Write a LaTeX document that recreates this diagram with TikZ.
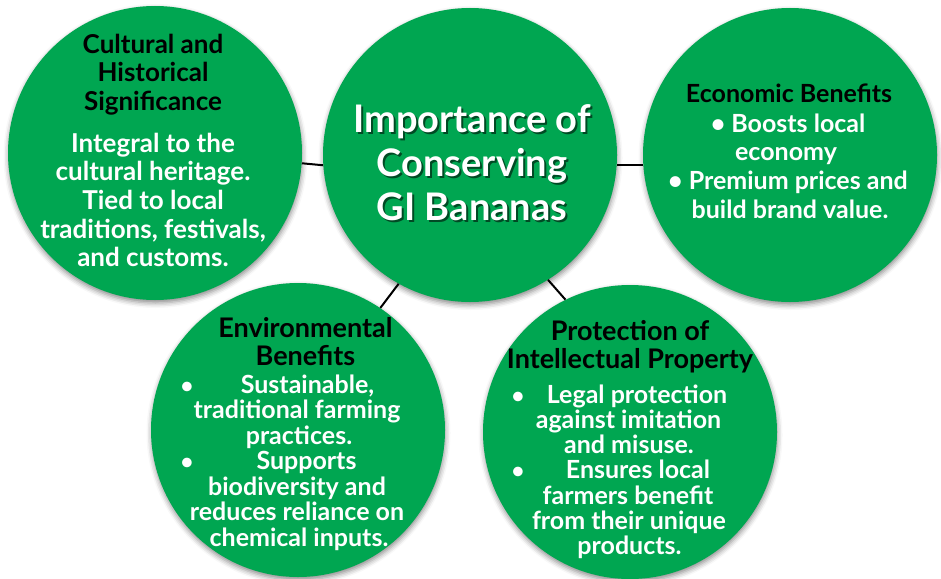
\documentclass[tikz,border=0pt]{standalone}
\usepackage{fontspec}
\setmainfont{Lato}
\usetikzlibrary{shadows.blur}

\definecolor{gigreen}{RGB}{0,166,81}

\tikzset{
  bubble/.style={circle, fill=gigreen, minimum size=294pt, inner sep=0pt,
    blur shadow={shadow xshift=0.5pt, shadow yshift=-3pt,
                 shadow blur radius=5pt, shadow opacity=45}},
  link/.style={draw=black, line width=2pt},
  headline/.style={anchor=base, inner sep=0pt, text=black,
    font=\bfseries\fontsize{#1}{#1}\selectfont},
  bodyline/.style={anchor=base, inner sep=0pt, text=white,
    font=\bfseries\fontsize{#1}{#1}\selectfont},
  titleline/.style={anchor=base, inner sep=0pt, text=white,
    font=\bfseries\fontsize{38}{38}\selectfont},
  titleshade/.style={anchor=base, inner sep=0pt, text=black, opacity=0.55,
    font=\bfseries\fontsize{38}{38}\selectfont},
  dot/.style={anchor=base, inner sep=0pt, text=white,
    font=\bfseries\fontsize{#1}{#1}\selectfont},
}

\begin{document}
\begin{tikzpicture}[x=1pt, y=-1pt]
  \useasboundingbox (0,0) rectangle (941,578);

  % the five circles
  \node[bubble] (cult) at (155,153) {};
  \node[bubble] (core) at (470,155) {};
  \node[bubble] (econ) at (790,155) {};
  \node[bubble] (envi) at (298,430) {};
  \node[bubble] (prot) at (630,432) {};

  % short connectors between the circles
  \draw[link] (cult.-4.6) -- (core.184.5);
  \draw[link] (core.-4.3) -- (econ.184.3);
  \draw[link] (core.241.7) -- (envi.56.3);
  \draw[link] (core.-58.8) -- (prot.116.7);

  % central title with a soft drop shadow
  \foreach \txt [count=\i] in {{Importance of},{Conserving},{GI Bananas}} {
    \node[titleshade] (titlesh\i) at (474, {132+44*(\i-1)+2}) {\txt};
    \node[titleline]  (title\i)   at (472, {132+44*(\i-1)}) {\txt};
  }

  % cultural and historical significance
  \foreach \txt [count=\i] in {{Cultural and},{Historical},{Significance}}
    \node[headline=26] (culth\i) at (153, {53+28.5*(\i-1)}) {\txt};
  \foreach \txt [count=\i] in {{Integral to the},{cultural heritage.},{Tied to local},
                               {traditions, festivals,},{and customs.}}
    \node[bodyline=26] (cultb\i) at (153, {152+28.7*(\i-1)}) {\txt};

  % economic benefits
  \node[headline=25] (econh) at (789,102) {Economic Benefits};
  \foreach \txt/\cx [count=\i] in {{\textbullet\ Boosts local}/788,{economy}/786,
                                   {\textbullet\ Premium prices and}/788,
                                   {build brand value.}/790}
    \node[bodyline=25] (econb\i) at (\cx, {132+28.7*(\i-1)}) {\txt};

  % environmental benefits
  \foreach \txt [count=\i] in {{Environmental},{Benefits}}
    \node[headline=27] (envih\i) at (305.5, {337+28*(\i-1)}) {\txt};
  \foreach \txt/\cx [count=\i] in {{Sustainable,}/307.5,{traditional farming}/297,
                                   {practices.}/299,{Supports}/306.5,
                                   {biodiversity and}/297,{reduces reliance on}/297,
                                   {chemical inputs.}/299}
    \node[bodyline=25] (envib\i) at (\cx, {393+25.5*(\i-1)}) {\txt};
  \node[dot=22] (envid1) at (187,393) {\textbullet};
  \node[dot=22] (envid2) at (187,469.5) {\textbullet};

  % protection of intellectual property
  \foreach \txt [count=\i] in {{Protection of},{Intellectual Property}}
    \node[headline=27] (proth\i) at (630, {340+28*(\i-1)}) {\txt};
  \foreach \txt/\cx [count=\i] in {{Legal protection}/637,{against imitation}/628.5,
                                   {and misuse.}/629,{Ensures local}/638,
                                   {farmers benefit}/628,{from their unique}/629,
                                   {products.}/629.5}
    \node[bodyline=25] (protb\i) at (\cx, {403+25.3*(\i-1)}) {\txt};
  \node[dot=22] (protd1) at (518,403) {\textbullet};
  \node[dot=22] (protd2) at (518,478.9) {\textbullet};
\end{tikzpicture}
\end{document}
